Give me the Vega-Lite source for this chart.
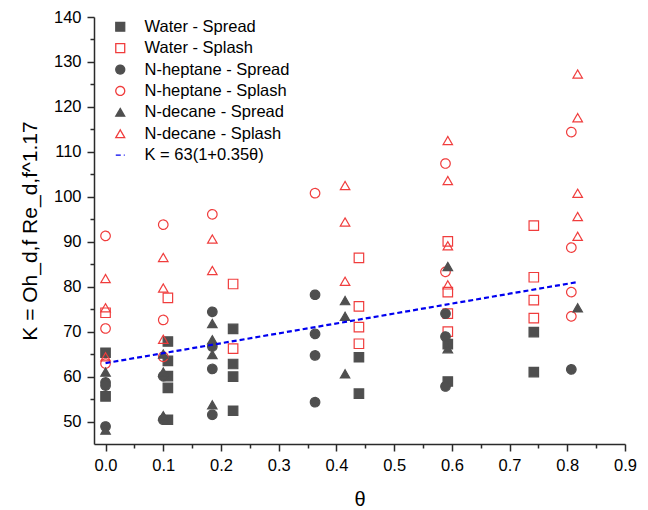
{
  "$schema": "https://vega.github.io/schema/vega-lite/v6.json",
  "width": 531,
  "height": 427,
  "autosize": {"type": "none"},
  "padding": {"left": 94, "top": 17, "right": 23, "bottom": 66},
  "background": "white",
  "config": {
    "font": "Liberation Sans",
    "view": {"stroke": null},
    "axis": {
      "grid": false,
      "domainColor": "#2a2a2a",
      "domainWidth": 1.5,
      "tickColor": "#2a2a2a",
      "tickWidth": 1.5,
      "labelFont": "Liberation Sans",
      "labelFontSize": 16.5,
      "labelColor": "#000000",
      "titleFont": "Liberation Sans",
      "titleFontWeight": "normal",
      "titleColor": "#000000",
      "labelFlush": false,
      "labelOverlap": false,
      "labelBound": false
    },
    "legend": {
      "orient": "none",
      "legendX": 18,
      "legendY": 1.5,
      "padding": 0,
      "labelFont": "Liberation Sans",
      "labelFontSize": 16.5,
      "labelColor": "#000000",
      "labelOffset": 16,
      "rowPadding": 4.4,
      "symbolSize": 80,
      "symbolStrokeWidth": 1.3
    }
  },
  "datasets": {
    "pts": [
      {"theta": 0.0, "K": 65.3, "series": "Water - Spread"},
      {"theta": 0.0, "K": 55.6, "series": "Water - Spread"},
      {"theta": 0.108, "K": 67.8, "series": "Water - Spread"},
      {"theta": 0.108, "K": 63.5, "series": "Water - Spread"},
      {"theta": 0.108, "K": 60.1, "series": "Water - Spread"},
      {"theta": 0.108, "K": 57.5, "series": "Water - Spread"},
      {"theta": 0.108, "K": 50.4, "series": "Water - Spread"},
      {"theta": 0.221, "K": 70.6, "series": "Water - Spread"},
      {"theta": 0.221, "K": 62.8, "series": "Water - Spread"},
      {"theta": 0.221, "K": 60.0, "series": "Water - Spread"},
      {"theta": 0.221, "K": 52.4, "series": "Water - Spread"},
      {"theta": 0.439, "K": 64.3, "series": "Water - Spread"},
      {"theta": 0.439, "K": 56.2, "series": "Water - Spread"},
      {"theta": 0.593, "K": 67.2, "series": "Water - Spread"},
      {"theta": 0.593, "K": 58.9, "series": "Water - Spread"},
      {"theta": 0.742, "K": 69.9, "series": "Water - Spread"},
      {"theta": 0.742, "K": 61.0, "series": "Water - Spread"},

      {"theta": 0.0, "K": 74.2, "series": "Water - Splash"},
      {"theta": 0.108, "K": 77.5, "series": "Water - Splash"},
      {"theta": 0.221, "K": 80.6, "series": "Water - Splash"},
      {"theta": 0.221, "K": 66.2, "series": "Water - Splash"},
      {"theta": 0.439, "K": 86.4, "series": "Water - Splash"},
      {"theta": 0.439, "K": 75.6, "series": "Water - Splash"},
      {"theta": 0.439, "K": 71.0, "series": "Water - Splash"},
      {"theta": 0.439, "K": 67.3, "series": "Water - Splash"},
      {"theta": 0.593, "K": 90.1, "series": "Water - Splash"},
      {"theta": 0.593, "K": 78.8, "series": "Water - Splash"},
      {"theta": 0.593, "K": 74.0, "series": "Water - Splash"},
      {"theta": 0.593, "K": 70.0, "series": "Water - Splash"},
      {"theta": 0.742, "K": 93.6, "series": "Water - Splash"},
      {"theta": 0.742, "K": 82.1, "series": "Water - Splash"},
      {"theta": 0.742, "K": 77.0, "series": "Water - Splash"},
      {"theta": 0.742, "K": 73.0, "series": "Water - Splash"},

      {"theta": 0.0, "K": 58.7, "series": "N-heptane - Spread"},
      {"theta": 0.0, "K": 58.0, "series": "N-heptane - Spread"},
      {"theta": 0.0, "K": 48.9, "series": "N-heptane - Spread"},
      {"theta": 0.1, "K": 60.1, "series": "N-heptane - Spread"},
      {"theta": 0.1, "K": 50.4, "series": "N-heptane - Spread"},
      {"theta": 0.185, "K": 74.4, "series": "N-heptane - Spread"},
      {"theta": 0.185, "K": 66.7, "series": "N-heptane - Spread"},
      {"theta": 0.185, "K": 61.7, "series": "N-heptane - Spread"},
      {"theta": 0.185, "K": 51.5, "series": "N-heptane - Spread"},
      {"theta": 0.363, "K": 78.2, "series": "N-heptane - Spread"},
      {"theta": 0.363, "K": 69.5, "series": "N-heptane - Spread"},
      {"theta": 0.363, "K": 64.7, "series": "N-heptane - Spread"},
      {"theta": 0.363, "K": 54.3, "series": "N-heptane - Spread"},
      {"theta": 0.589, "K": 74.0, "series": "N-heptane - Spread"},
      {"theta": 0.589, "K": 68.9, "series": "N-heptane - Spread"},
      {"theta": 0.589, "K": 57.8, "series": "N-heptane - Spread"},
      {"theta": 0.807, "K": 61.6, "series": "N-heptane - Spread"},

      {"theta": 0.0, "K": 91.3, "series": "N-heptane - Splash"},
      {"theta": 0.0, "K": 70.7, "series": "N-heptane - Splash"},
      {"theta": 0.0, "K": 62.9, "series": "N-heptane - Splash"},
      {"theta": 0.1, "K": 93.8, "series": "N-heptane - Splash"},
      {"theta": 0.1, "K": 72.6, "series": "N-heptane - Splash"},
      {"theta": 0.1, "K": 64.4, "series": "N-heptane - Splash"},
      {"theta": 0.185, "K": 96.1, "series": "N-heptane - Splash"},
      {"theta": 0.363, "K": 100.8, "series": "N-heptane - Splash"},
      {"theta": 0.589, "K": 107.4, "series": "N-heptane - Splash"},
      {"theta": 0.589, "K": 83.3, "series": "N-heptane - Splash"},
      {"theta": 0.807, "K": 114.4, "series": "N-heptane - Splash"},
      {"theta": 0.807, "K": 88.7, "series": "N-heptane - Splash"},
      {"theta": 0.807, "K": 78.8, "series": "N-heptane - Splash"},
      {"theta": 0.807, "K": 73.4, "series": "N-heptane - Splash"},

      {"theta": 0.0, "K": 61.0, "series": "N-decane - Spread"},
      {"theta": 0.0, "K": 48.1, "series": "N-decane - Spread"},
      {"theta": 0.1, "K": 65.0, "series": "N-decane - Spread"},
      {"theta": 0.1, "K": 61.0, "series": "N-decane - Spread"},
      {"theta": 0.1, "K": 51.3, "series": "N-decane - Spread"},
      {"theta": 0.185, "K": 71.8, "series": "N-decane - Spread"},
      {"theta": 0.185, "K": 68.2, "series": "N-decane - Spread"},
      {"theta": 0.185, "K": 64.9, "series": "N-decane - Spread"},
      {"theta": 0.185, "K": 53.7, "series": "N-decane - Spread"},
      {"theta": 0.415, "K": 76.9, "series": "N-decane - Spread"},
      {"theta": 0.415, "K": 73.4, "series": "N-decane - Spread"},
      {"theta": 0.415, "K": 60.6, "series": "N-decane - Spread"},
      {"theta": 0.593, "K": 84.5, "series": "N-decane - Spread"},
      {"theta": 0.593, "K": 66.2, "series": "N-decane - Spread"},
      {"theta": 0.818, "K": 75.3, "series": "N-decane - Spread"},

      {"theta": 0.0, "K": 81.8, "series": "N-decane - Splash"},
      {"theta": 0.0, "K": 75.3, "series": "N-decane - Splash"},
      {"theta": 0.0, "K": 64.4, "series": "N-decane - Splash"},
      {"theta": 0.1, "K": 86.5, "series": "N-decane - Splash"},
      {"theta": 0.1, "K": 79.7, "series": "N-decane - Splash"},
      {"theta": 0.1, "K": 68.3, "series": "N-decane - Splash"},
      {"theta": 0.185, "K": 90.6, "series": "N-decane - Splash"},
      {"theta": 0.185, "K": 83.6, "series": "N-decane - Splash"},
      {"theta": 0.415, "K": 102.5, "series": "N-decane - Splash"},
      {"theta": 0.415, "K": 94.4, "series": "N-decane - Splash"},
      {"theta": 0.415, "K": 81.2, "series": "N-decane - Splash"},
      {"theta": 0.593, "K": 112.5, "series": "N-decane - Splash"},
      {"theta": 0.593, "K": 103.6, "series": "N-decane - Splash"},
      {"theta": 0.593, "K": 89.1, "series": "N-decane - Splash"},
      {"theta": 0.593, "K": 80.4, "series": "N-decane - Splash"},
      {"theta": 0.818, "K": 127.3, "series": "N-decane - Splash"},
      {"theta": 0.818, "K": 117.6, "series": "N-decane - Splash"},
      {"theta": 0.818, "K": 100.8, "series": "N-decane - Splash"},
      {"theta": 0.818, "K": 95.6, "series": "N-decane - Splash"},
      {"theta": 0.818, "K": 91.2, "series": "N-decane - Splash"}
    ],
    "fit": [
      {"theta": 0.0, "K": 63.0, "series": "K = 63(1+0.35θ)"},
      {"theta": 0.815, "K": 80.97, "series": "K = 63(1+0.35θ)"}
    ]
  },
  "encoding": {
    "x": {
      "field": "theta",
      "type": "quantitative",
      "scale": {"domain": [-0.02, 0.9], "nice": false, "zero": false},
      "axis": {
        "title": "θ",
        "titleFontSize": 20,
        "titlePadding": 16,
        "labelPadding": 6,
        "values": [0, 0.05, 0.1, 0.15, 0.2, 0.25, 0.3, 0.35, 0.4, 0.45, 0.5, 0.55, 0.6, 0.65, 0.7, 0.75, 0.8, 0.85, 0.9],
        "labelExpr": "abs(datum.value*10 - round(datum.value*10)) < 0.01 ? format(datum.value, '.1f') : ''",
        "tickSize": {"condition": {"test": "abs(datum.value*10 - round(datum.value*10)) < 0.01", "value": 7}, "value": 4}
      }
    },
    "y": {
      "field": "K",
      "type": "quantitative",
      "scale": {"domain": [45, 140], "nice": false, "zero": false},
      "axis": {
        "title": "K = Oh_d,f Re_d,f^1.17",
        "titleFontSize": 21,
        "titlePadding": 13,
        "labelPadding": 6,
        "values": [50, 55, 60, 65, 70, 75, 80, 85, 90, 95, 100, 105, 110, 115, 120, 125, 130, 135, 140],
        "labelExpr": "datum.value % 10 === 0 ? format(datum.value, 'd') : ''",
        "tickSize": {"condition": {"test": "datum.value % 10 === 0", "value": 7}, "value": 4}
      }
    }
  },
  "layer": [
    {
      "data": {"name": "pts"},
      "mark": {"type": "point", "opacity": 1, "size": 90, "strokeWidth": 1.2},
      "encoding": {
        "stroke": {
          "field": "series", "type": "nominal", "title": null,
          "scale": {
            "domain": ["Water - Spread", "Water - Splash", "N-heptane - Spread", "N-heptane - Splash", "N-decane - Spread", "N-decane - Splash", "K = 63(1+0.35θ)"],
            "range": ["#4f4f4f", "#f03c3c", "#4f4f4f", "#f03c3c", "#4f4f4f", "#f03c3c", "#0000f0"]
          },
          "legend": {
            "encode": {
              "symbols": {
                "size": {"condition": {"test": "datum.value === 'K = 63(1+0.35θ)'", "value": 1600}, "value": 85},
                "strokeWidth": {"condition": {"test": "datum.value === 'K = 63(1+0.35θ)'", "value": 2.2}, "value": 1.3}
              }
            }
          }
        },
        "fill": {
          "field": "series", "type": "nominal", "title": null,
          "scale": {
            "domain": ["Water - Spread", "Water - Splash", "N-heptane - Spread", "N-heptane - Splash", "N-decane - Spread", "N-decane - Splash", "K = 63(1+0.35θ)"],
            "range": ["#4f4f4f", "transparent", "#4f4f4f", "transparent", "#4f4f4f", "transparent", "transparent"]
          },
          "legend": {
            "encode": {
              "symbols": {
                "size": {"condition": {"test": "datum.value === 'K = 63(1+0.35θ)'", "value": 1600}, "value": 85},
                "strokeWidth": {"condition": {"test": "datum.value === 'K = 63(1+0.35θ)'", "value": 2.2}, "value": 1.3}
              }
            }
          }
        },
        "shape": {
          "field": "series", "type": "nominal", "title": null,
          "scale": {
            "domain": ["Water - Spread", "Water - Splash", "N-heptane - Spread", "N-heptane - Splash", "N-decane - Spread", "N-decane - Splash", "K = 63(1+0.35θ)"],
            "range": ["square", "square", "circle", "circle", "triangle-up", "triangle-up", "stroke"]
          },
          "legend": {
            "encode": {
              "symbols": {
                "size": {"condition": {"test": "datum.value === 'K = 63(1+0.35θ)'", "value": 1600}, "value": 85},
                "strokeWidth": {"condition": {"test": "datum.value === 'K = 63(1+0.35θ)'", "value": 2.2}, "value": 1.3}
              }
            }
          }
        },
        "strokeDash": {
          "field": "series", "type": "nominal", "title": null,
          "scale": {
            "domain": ["Water - Spread", "Water - Splash", "N-heptane - Spread", "N-heptane - Splash", "N-decane - Spread", "N-decane - Splash", "K = 63(1+0.35θ)"],
            "range": [[1, 0], [1, 0], [1, 0], [1, 0], [1, 0], [1, 0], [5, 3]]
          },
          "legend": {
            "encode": {
              "symbols": {
                "size": {"condition": {"test": "datum.value === 'K = 63(1+0.35θ)'", "value": 1600}, "value": 85},
                "strokeWidth": {"condition": {"test": "datum.value === 'K = 63(1+0.35θ)'", "value": 2.2}, "value": 1.3}
              }
            }
          }
        }
      }
    },
    {
      "data": {"name": "fit"},
      "mark": {"type": "line", "strokeWidth": 2.2},
      "encoding": {
        "stroke": {"field": "series", "type": "nominal", "title": null},
        "strokeDash": {"field": "series", "type": "nominal", "title": null}
      }
    }
  ]
}
